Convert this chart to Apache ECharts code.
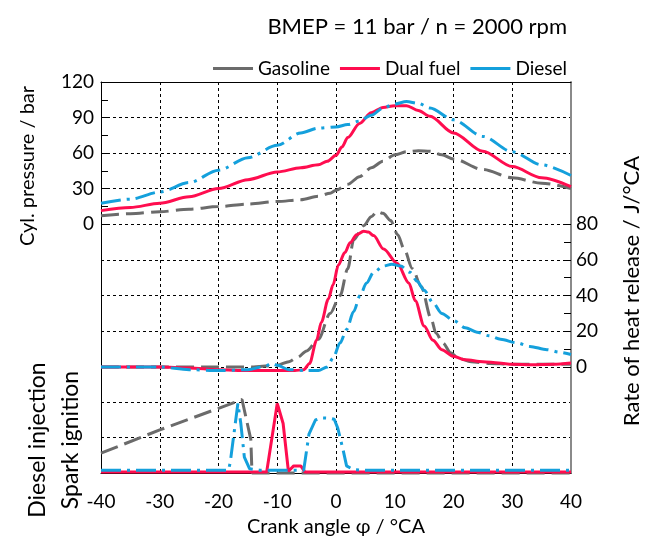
<!DOCTYPE html>
<html>
<head>
  <meta charset="utf-8">
</head>
<body style="margin: 0; width: 650px; height: 540px;">
  <div id="container" style="width: 650px; height: 540px;"></div>
  <script type="text/javascript" src="https://fastly.jsdelivr.net/npm/echarts@6/dist/echarts.min.js"></script>
  <script type="text/javascript">
    // crank angle ticks
    var angleMin = -40, angleMax = 40, angleStep = 10;
    var fuels = ['Gasoline', 'Dual fuel', 'Diesel'];

    // cylinder pressure / bar  [angle, value]
    var pressGasoline = [[-40, 7], [-35, 8.7], [-30, 10.4], [-25, 12.5], [-20, 14.7], [-15, 16.8], [-10, 19], [-6, 20.5], [-3, 23.5], [-1, 26], [0, 28.5], [2, 33.5], [4, 40], [6, 47.5], [8, 53], [10, 58.5], [12, 61], [14, 62], [16, 61.5], [18, 58.5], [20, 55], [25, 46], [30, 39], [35, 34.5], [40, 30]];
    var pressDual = [[-40, 11.3], [-35, 14], [-30, 17.5], [-25, 23], [-20, 30], [-15, 37.5], [-10, 44], [-6, 47.5], [-3, 50], [-1.5, 53], [0, 58], [1, 65], [2, 73], [4, 85], [6, 94], [8, 98.5], [10, 100], [12, 100], [14, 96], [16, 91], [20, 77], [25, 61.5], [30, 48.5], [35, 39], [40, 31.5]];
    var pressDiesel = [[-40, 17.5], [-35, 21], [-30, 27], [-25, 35], [-20, 45.5], [-15, 56], [-10, 66.5], [-6, 77], [-3, 81], [0, 82], [2, 84], [4, 87], [6, 92], [8, 98], [10, 101.5], [12, 103.5], [14, 102], [16, 98], [20, 88], [25, 74], [30, 61], [35, 50], [40, 41]];

    // rate of heat release / J/°CA
    var hrrGasoline = [[-40, 0], [-30, 0], [-20, 0], [-14, 0], [-12, 0.5], [-10, 1], [-8, 3], [-6.5, 5.5], [-5, 9], [-3, 15.5], [-1, 30], [0.7, 40], [2, 55], [3, 71], [4.7, 79], [6, 84], [7, 87], [8, 86], [9.3, 82], [10.5, 74], [11.6, 66], [13, 55], [14.5, 45], [16.2, 27], [17, 19], [18.2, 13.5], [19.5, 8], [20.8, 5], [23, 3], [26, 2], [30, 1.5], [35, 1.5], [40, 1.5]];
    var hrrDual = [[-40, 0], [-30, 0], [-25, -0.5], [-20, -1.5], [-15, -2], [-10, -2], [-7, -2], [-5.5, -1.5], [-4.5, 2], [-3.3, 15], [-2.5, 25], [-1.3, 38], [-0.5, 46], [0.4, 57], [1.5, 64], [2.4, 69.5], [3.5, 74], [4.7, 76], [5.5, 75.5], [6.4, 73.5], [8.1, 66], [10.4, 58], [12.4, 47], [13.5, 37], [15, 23], [16.5, 15], [18, 9.7], [20, 6], [22, 4], [25, 3], [27.7, 2.2], [30, 1.5], [33.4, 1.3], [37, 1.5], [40, 2.2]];
    var hrrDiesel = [[-40, 0], [-30, 0], [-25, -1.5], [-20, -2], [-15, -1.5], [-12, 0.5], [-11, 2], [-10, 1], [-8, -1.5], [-5, -2], [-3, -2], [-1.5, 0], [-0.5, 5], [0.7, 13.5], [1.8, 21], [3, 31], [4.1, 40], [5.2, 47], [6.4, 53], [8.1, 56.5], [9.5, 57.5], [11, 56.5], [12.6, 53], [13.8, 48], [15, 43], [16.5, 36], [18, 30], [20, 26], [22, 22], [24, 19.5], [26, 17.5], [28, 15.5], [30.8, 13.5], [33, 11.5], [35.9, 9.7], [38, 8.3], [40, 7]];

    // spark ignition / diesel injection signals (arbitrary units, 0..3)
    var sigGasoline = [[-40, 0.56], [-30, 1.22], [-20, 1.83], [-16, 2.08], [-14.5, 0.95], [-14.3, 0], [40, 0]];
    var sigDual = [[-40, 0.03], [-11.8, 0.03], [-10, 1.97], [-9, 1.4], [-8.1, 0.05], [-7.2, 0.2], [-6, 0.2], [-5.3, 0.03], [40, 0.03]];
    var sigDiesel = [[-40, 0.08], [-18.3, 0.08], [-18, 0.3], [-17.3, 1.2], [-16.7, 1.97], [-16.2, 1.4], [-15.6, 0.45], [-14.7, 0.12], [-13, 0.08], [-5.5, 0.08], [-4.6, 1.1], [-3.5, 1.5], [-2.5, 1.56], [-1, 1.55], [-0.3, 1.52], [0.3, 1.27], [1.2, 0.66], [1.8, 0.2], [2.9, 0.1], [4.6, 0.08], [40, 0.08]];

    var colors = ['#6b6b6b', '#ff0d4f', '#14a0dc'];
    var dashes = [[18, 7], 'solid', [20, 6, 3, 6]];
    var font = 'Lato';

    var dom = document.getElementById('container');
    var myChart = echarts.init(dom, null, { renderer: 'canvas' });

    var dotted = { show: true, lineStyle: { color: '#000', type: [3, 3], width: 1 } };
    var gridPos = [
      { left: 101, right: 79, top: 82, height: 142 },
      { left: 101, right: 79, top: 224, height: 143 },
      { left: 101, right: 79, top: 367, height: 106 }
    ];

    function xAx(i, last) {
      return {
        type: 'value', gridIndex: i, min: angleMin, max: angleMax, interval: angleStep,
        axisLine: { show: last, onZero: false, lineStyle: { color: '#000', width: 1 } },
        axisTick: { show: false },
        axisLabel: { show: last, margin: 19, color: '#000', fontSize: 19, fontFamily: font },
        splitLine: dotted,
        name: last ? 'Crank angle φ / °CA' : '',
        nameLocation: 'middle', nameGap: 44,
        nameTextStyle: { color: '#000', fontSize: 20, fontFamily: font }
      };
    }
    var xAxes = [xAx(0, false), xAx(1, false), xAx(2, true), {
      // top frame line
      type: 'value', gridIndex: 0, position: 'top', min: angleMin, max: angleMax,
      axisLine: { show: true, onZero: false, lineStyle: { color: '#000', width: 1 } },
      axisTick: { show: false }, axisLabel: { show: false }, splitLine: { show: false }
    }];

    var grayLine = { show: true, onZero: false, lineStyle: { color: '#8a8a8a', width: 2 } };
    var blackLine = { show: true, onZero: false, lineStyle: { color: '#000', width: 1 } };
    var yAxes = [
      // 0: pressure, left
      { type: 'value', gridIndex: 0, min: 0, max: 120, interval: 30, position: 'left',
        axisLine: blackLine,
        axisTick: { show: true, inside: true, length: 7, lineStyle: { color: '#000' } },
        minorTick: { show: true, splitNumber: 2, length: 7, lineStyle: { color: '#000' } },
        axisLabel: { margin: 7, color: '#000', fontSize: 19, fontFamily: font },
        splitLine: dotted },
      // 1: pressure, right frame
      { type: 'value', gridIndex: 0, min: 0, max: 120, position: 'right',
        axisLine: grayLine, axisTick: { show: false }, axisLabel: { show: false }, splitLine: { show: false } },
      // 2: heat release, left frame
      { type: 'value', gridIndex: 1, min: 0, max: 80, interval: 20, position: 'left',
        axisLine: blackLine, axisTick: { show: false }, axisLabel: { show: false }, splitLine: dotted },
      // 3: heat release, right
      { type: 'value', gridIndex: 1, min: 0, max: 80, interval: 20, position: 'right',
        axisLine: grayLine,
        axisTick: { show: true, inside: true, length: 7, lineStyle: { color: '#000' } },
        minorTick: { show: true, splitNumber: 2, length: 7, lineStyle: { color: '#000' } },
        axisLabel: { margin: 5, color: '#000', fontSize: 19, fontFamily: font },
        splitLine: { show: false } },
      // 4: signals, left frame
      { type: 'value', gridIndex: 2, min: 0, max: 3, interval: 1, position: 'left',
        axisLine: blackLine, axisTick: { show: false }, axisLabel: { show: false }, splitLine: dotted },
      // 5: signals, right frame
      { type: 'value', gridIndex: 2, min: 0, max: 3, position: 'right',
        axisLine: grayLine, axisTick: { show: false }, axisLabel: { show: false }, splitLine: { show: false } }
    ];

    var series = [];
    var panels = [
      { x: 0, y: 0, data: [pressGasoline, pressDual, pressDiesel], smooth: 0.3 },
      { x: 1, y: 3, data: [hrrGasoline, hrrDual, hrrDiesel], smooth: 0.3 },
      { x: 2, y: 4, data: [sigGasoline, sigDual, sigDiesel], smooth: false }
    ];
    panels.forEach(function (p) {
      [0, 2, 1].forEach(function (k) {
        series.push({
          name: fuels[k], type: 'line', xAxisIndex: p.x, yAxisIndex: p.y,
          data: p.data[k], showSymbol: false, symbol: 'none', clip: false,
          smooth: p.smooth, smoothMonotone: 'x',
          color: colors[k],
          lineStyle: { color: colors[k], width: 3, type: dashes[k], cap: 'butt' },
          z: 3 + k
        });
      });
    });

    // legend keys: filled bars, no (dashed) outline
    var legendItems = fuels.map(function (name, k) {
      return {
        name: name,
        itemStyle: { color: colors[k], borderColor: 'rgba(0,0,0,0)', borderType: 'solid', borderWidth: 0 },
        lineStyle: { color: colors[k], type: 'solid', width: 3 }
      };
    });

    function vText(txt, x, y, size) {
      return { type: 'text', x: x, y: y, rotation: Math.PI / 2, z: 10,
        style: { text: txt, fill: '#000', fontSize: size, fontFamily: font, align: 'center', verticalAlign: 'middle' } };
    }

    var option = {
      animation: false,
      title: {
        text: 'BMEP = 11 bar / n = 2000 rpm', right: 78, top: 11,
        textStyle: { color: '#000', fontSize: 22, fontWeight: 'normal', fontFamily: font }
      },
      legend: {
        data: legendItems, right: 78, top: 54, icon: 'rect', itemWidth: 40, itemHeight: 3, itemGap: 10,
        itemStyle: { borderColor: 'rgba(0,0,0,0)', borderWidth: 0 },
        lineStyle: { type: 'solid', width: 3 },
        textStyle: { color: '#000', fontSize: 19, fontFamily: font }
      },
      grid: gridPos,
      xAxis: xAxes,
      yAxis: yAxes,
      series: series,
      graphic: [
        vText('Cyl. pressure / bar', 28, 166, 20),
        vText('Rate of heat release / J/°CA', 632, 291, 22),
        vText('Diesel injection', 38, 440, 23),
        vText('Spark ignition', 71, 440, 23)
      ]
    };
    myChart.setOption(option);
  </script>
</body>
</html>
